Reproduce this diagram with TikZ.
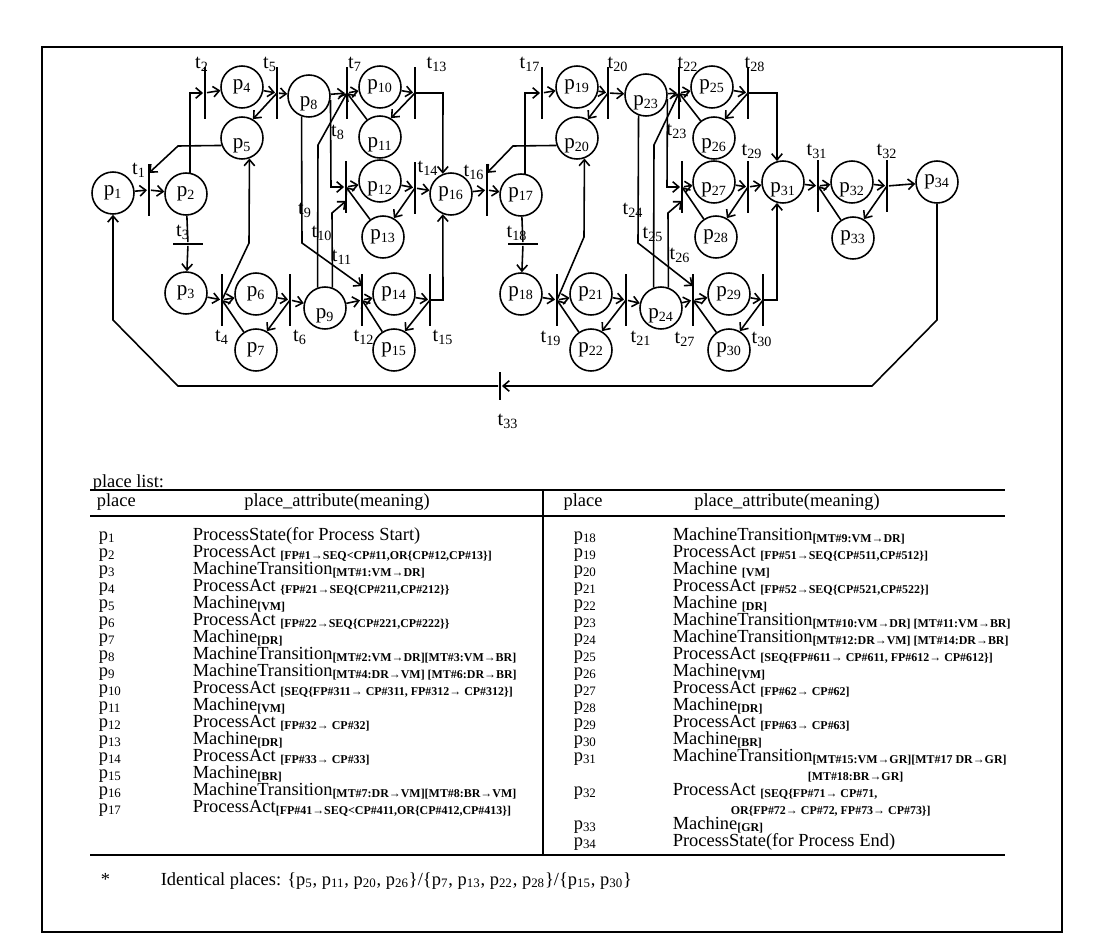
\documentclass[tikz,border=0pt]{standalone}
\usepackage{fontspec}
\setmainfont{Liberation Serif}
\usetikzlibrary{arrows.meta}
\newcommand{\attsub}[1]{\raisebox{-1.2pt}{\fontsize{6.8}{7}\selectfont\bfseries #1}}
\tikzset{
  petrifig/.style={
    x=0.02cm, y=-0.02cm, line width=0.9pt,
    >={Straight Barb[length=3.5pt,width=6pt]},
  },
  place/.style={circle, draw, line width=0.9pt, minimum size=0.84cm,
    inner sep=0pt, font=\fontsize{12}{13}\selectfont},
  % label sitting in the lower half of the circle
  lowplace/.style={place, text height=12pt, text depth=0pt},
  tbar/.style={rectangle, fill=black, draw=none, inner sep=0pt,
    minimum width=1.3pt, minimum height=1.05cm},
  hbar/.style={tbar, minimum width=0.6cm, minimum height=1.3pt},
  tlab/.style={inner sep=0pt, font=\fontsize{11.5}{12}\selectfont},
  flow/.style={->},
  rowlab/.style={anchor=base west, inner sep=0pt, font=\fontsize{10.5}{11}\selectfont},
  rowhead/.style={rowlab, anchor=base},
  rule/.style={line width=1pt},
}
\begin{document}
\begin{tikzpicture}[petrifig]
  \useasboundingbox (0,0) rectangle (1100,950);
  \draw[line width=0.8pt] (42,47) rectangle (1062,932);
  % places
  \foreach \n/\x/\y/\s in {1/113/193/place, 2/186/194/place, 3/186/293/place,
      4/242/87/place, 5/242/138/lowplace, 6/256/294/place, 7/256/350/place,
      8/309/96/lowplace, 9/325/308/lowplace, 10/380/87/place,
      11/380/137/lowplace, 12/380/181/lowplace, 13/383/237/place,
      14/394/294/place, 15/394/350/place, 16/451/194/place, 17/521/195/place,
      18/521/294/place, 19/577/87/place, 20/577/138/lowplace,
      21/591/294/place, 22/591/350/place, 23/646/95/lowplace,
      24/661/308/lowplace, 25/712/87/place, 26/714/138/lowplace,
      27/714/182/lowplace, 28/716/237/place, 29/729/294/place,
      30/729/350/place, 31/783/182/lowplace, 32/852/182/lowplace,
      33/853/238/place, 34/937/182/place}
    \node[\s] (p\n) at (\x,\y) {p\textsubscript{\n}};
  % transitions
  \foreach \n/\x/\y in {1/149/190, 2/205/93, 5/277/93, 7/347/93, 13/415/93,
      14/415/188, 16/487/190, 17/542/93, 20/608/93, 22/679/93, 28/748/93,
      29/748/187, 31/818/186, 32/887/186, 4/222/300, 6/290/300, 12/362/300,
      15/430/300, 19/557/300, 21/626/300, 27/693/300, 30/763/300}
    \node[tbar] (t\n) at (\x,\y) {};
  \node[tbar] (j12) at (346,187) {};
  \node[tbar] (j27) at (682,187) {};
  \node[hbar] (t3) at (188,244) {};
  \node[hbar] (t18) at (523,244) {};
  \node[tbar, minimum height=0.56cm] (t33) at (500,386) {};
  % transition labels
  \foreach \n/\x/\y in {1/139/170, 2/202/64, 3/183/232, 4/222/337, 5/270/64,
      6/300/337, 7/355/64, 8/338/132, 9/305/210, 10/322/233, 11/342/257,
      12/364/337, 13/437/64, 14/428/168, 15/443/337, 16/474/172, 17/530/64,
      18/517/233, 19/551/338, 20/618/64, 21/641/338, 22/688/64, 23/677/131,
      24/633/210, 25/653/234, 26/680/255, 27/685/339, 28/755/64, 29/752/151,
      30/762/339, 31/817/151, 32/887/151, 33/508/421}
    \node[tlab] (lt\n) at (\x,\y) {t\textsubscript{\n}};
  % first block
  \draw[flow] (p1) -- (t1);
  \draw[flow] (t1) -- (p2);
  \draw[flow] (p5.200) -- (178,146) -- ([yshift=-0.2cm]t1.north);
  \draw[flow] (p2.80) |- (t2);
  \draw[flow] (t2) -- (p4);
  \draw (p2) -- (t3);
  \draw[flow] (t3) -- (p3);
  \draw[flow] (p4) -- (t5);
  \draw[flow] (t5) -- (p8);
  \draw[flow] (t5.center) -- (p5.60);
  \draw[flow] (p3) -- (t4);
  \draw[flow] (t4) -- (p6);
  \draw[flow] (p7) -- (t4.center);
  \draw[flow] (t4.center) -- (249,243) -- (p5.-70);
  \draw[flow] (p6) -- (t6);
  \draw[flow] (t6.center) -- (p7.60);
  \draw[flow] (t6) -- (p9);
  \draw[flow] (p8) -- (t7);
  \draw[flow] (t7) -- (p10);
  \draw[flow] (p11) -- (t7.center);
  \draw[flow] (p10) -- (t13);
  \draw[flow] (t13.center) -- (p11.60);
  \draw[flow] (t13.center) -- (443,93) -- (p16.112);
  \draw[flow] (p8.-10) -- (331,187) -- (j12);
  \draw[flow] (p9.110) -- (318,145) -- (t7.center);
  \draw[flow] (p9.70) -- (332,213) -- ([yshift=-0.28cm]j12.center);
  \draw[flow] (p8.-110) -- (302,243) -- ([yshift=0.28cm]t12.center);
  \draw[flow] (j12) -- (p12);
  \draw[flow] (p13) -- (j12.center);
  \draw[flow] (p12) -- (t14);
  \draw[flow] (t14.center) -- (p13.60);
  \draw[flow] (t14) -- (p16);
  \draw[flow] (p9) -- (t12);
  \draw[flow] (t12) -- (p14);
  \draw[flow] (p15) -- (t12.center);
  \draw[flow] (p14) -- (t15);
  \draw[flow] (t15.center) -- (p15.60);
  \draw[flow] (t15.center) -- (443,300) -- (p16.-112);
  % second block
  \draw[flow] (p16) -- (t16);
  \draw[flow] (t16) -- (p17);
  \draw[flow] (p20.200) -- (513,146) -- ([yshift=-0.2cm]t16.north);
  \draw[flow] (p17.80) |- (t17);
  \draw[flow] (t17) -- (p19);
  \draw (p17) -- (t18);
  \draw[flow] (t18) -- (p18);
  \draw[flow] (p19) -- (t20);
  \draw[flow] (t20) -- (p23);
  \draw[flow] (t20.center) -- (p20.60);
  \draw[flow] (p18) -- (t19);
  \draw[flow] (t19) -- (p21);
  \draw[flow] (p22) -- (t19.center);
  \draw[flow] (t19.center) -- (584,237) -- (p20.-70);
  \draw[flow] (p21) -- (t21);
  \draw[flow] (t21.center) -- (p22.60);
  \draw[flow] (t21) -- (p24);
  \draw[flow] (p23) -- (t22);
  \draw[flow] (t22) -- (p25);
  \draw[flow] (p26) -- (t22.center);
  \draw[flow] (p25) -- (t28);
  \draw[flow] (t28.center) -- (p26.60);
  \draw[flow] (t28.center) -- (777,93) -- (p31.106);
  \draw[flow] (p23.-10) -- (667,187) -- (j27);
  \draw[flow] (p24.110) -- (654,145) -- (t22.center);
  \draw[flow] (p24.70) -- (668,213) -- ([yshift=-0.28cm]j27.center);
  \draw[flow] (p23.-110) -- (638,243) -- ([yshift=0.28cm]t27.center);
  \draw[flow] (j27) -- (p27);
  \draw[flow] (p28) -- (j27.center);
  \draw[flow] (p27) -- (t29);
  \draw[flow] (t29.center) -- (p28.60);
  \draw[flow] (t29) -- (p31);
  \draw[flow] (p24) -- (t27);
  \draw[flow] (t27) -- (p29);
  \draw[flow] (p30) -- (t27.center);
  \draw[flow] (p29) -- (t30);
  \draw[flow] (t30.center) -- (p30.60);
  \draw[flow] (t30.center) -- (777,300) -- (p31.-106);
  % end of process
  \draw[flow] (p31) -- (t31);
  \draw[flow] (t31) -- (p32);
  \draw[flow] (p33) -- (t31.center);
  \draw[flow] (p32) -- (t32);
  \draw[flow] (t32.center) -- (p33.60);
  \draw[flow] (t32) -- (p34);
  \draw[flow] (p34) -- (937,320) -- (872,386) -- (t33);
  \draw[flow] (t33) -- (178,386) -- (113,320) -- (p1);
  % place list
  \node[rowlab] (listtitle) at (92,487) {place list:};
  \draw[rule] (90,490) -- (1005,490);
  \draw[rule] (90,516) -- (1005,516);
  \draw[rule] (543,490) -- (543,855);
  \draw[line width=0.8pt] (90,855) -- (1005,855);
  \node[rowlab] (hplaceL) at (96,506) {place};
  \node[rowhead] (hattrL) at (337,506) {place\_attribute(meaning)};
  \node[rowhead] (hplaceR) at (583,506) {place};
  \node[rowhead] (hattrR) at (787,506) {place\_attribute(meaning)};
  \foreach \k/\txt in {
      1/{ProcessState(for Process Start)},
      2/{ProcessAct \attsub{[FP\#1→SEQ<CP\#11,OR\{CP\#12,CP\#13\}]}},
      3/{MachineTransition\attsub{[MT\#1:VM→DR]}},
      4/{ProcessAct \attsub{\{FP\#21→SEQ\{CP\#211,CP\#212\}\}}},
      5/{Machine\attsub{[VM]}},
      6/{ProcessAct \attsub{[FP\#22→SEQ\{CP\#221,CP\#222\}\}}},
      7/{Machine\attsub{[DR]}},
      8/{MachineTransition\attsub{[MT\#2:VM→DR][MT\#3:VM→BR]}},
      9/{MachineTransition\attsub{[MT\#4:DR→VM] [MT\#6:DR→BR]}},
      10/{ProcessAct \attsub{[SEQ\{FP\#311→ CP\#311, FP\#312→ CP\#312\}]}},
      11/{Machine\attsub{[VM]}},
      12/{ProcessAct \attsub{[FP\#32→ CP\#32]}},
      13/{Machine\attsub{[DR]}},
      14/{ProcessAct \attsub{[FP\#33→ CP\#33]}},
      15/{Machine\attsub{[BR]}},
      16/{MachineTransition\attsub{[MT\#7:DR→VM][MT\#8:BR→VM]}},
      17/{ProcessAct\attsub{[FP\#41→SEQ<CP\#411,OR\{CP\#412,CP\#413\}]}}}{
    \node[rowlab] (lp\k) at (98,{540+17*(\k-1)}) {p\textsubscript{\k}};
    \node[rowlab] (la\k) at (192,{540+17*(\k-1)}) {\txt};
  }
  \foreach \k/\txt in {
      18/{MachineTransition\attsub{[MT\#9:VM→DR]}},
      19/{ProcessAct \attsub{[FP\#51→SEQ\{CP\#511,CP\#512\}]}},
      20/{Machine \attsub{[VM]}},
      21/{ProcessAct \attsub{[FP\#52→SEQ\{CP\#521,CP\#522\}]}},
      22/{Machine \attsub{[DR]}},
      23/{MachineTransition\attsub{[MT\#10:VM→DR] [MT\#11:VM→BR]}},
      24/{MachineTransition\attsub{[MT\#12:DR→VM] [MT\#14:DR→BR]}},
      25/{ProcessAct \attsub{[SEQ\{FP\#611→ CP\#611, FP\#612→ CP\#612\}]}},
      26/{Machine\attsub{[VM]}},
      27/{ProcessAct \attsub{[FP\#62→ CP\#62]}},
      28/{Machine\attsub{[DR]}},
      29/{ProcessAct \attsub{[FP\#63→ CP\#63]}},
      30/{Machine\attsub{[BR]}},
      31/{MachineTransition\attsub{[MT\#15:VM→GR][MT\#17 DR→GR]}}}{
    \node[rowlab] (lp\k) at (573,{540+17*(\k-18)}) {p\textsubscript{\k}};
    \node[rowlab] (la\k) at (672,{540+17*(\k-18)}) {\txt};
  }
  \node[rowlab] (la31b) at (807,778) {\attsub{[MT\#18:BR→GR]}};
  \node[rowlab] (lp32) at (573,795) {p\textsubscript{32}};
  \node[rowlab] (la32) at (672,795) {ProcessAct \attsub{[SEQ\{FP\#71→ CP\#71,}};
  \node[rowlab] (la32b) at (730,812) {\attsub{OR\{FP\#72→ CP\#72, FP\#73→ CP\#73\}]}};
  \node[rowlab] (lp33) at (573,829) {p\textsubscript{33}};
  \node[rowlab] (la33) at (672,829) {Machine\attsub{[GR]}};
  \node[rowlab] (lp34) at (573,846) {p\textsubscript{34}};
  \node[rowlab] (la34) at (672,846) {ProcessState(for Process End)};
  % note
  \node[rowlab] (notemark) at (100,885) {*};
  \node[rowlab] (notetext) at (160,885) {Identical places: \{p\textsubscript{5}, p\textsubscript{11}, p\textsubscript{20}, p\textsubscript{26}\}/\{p\textsubscript{7}, p\textsubscript{13}, p\textsubscript{22}, p\textsubscript{28}\}/\{p\textsubscript{15}, p\textsubscript{30}\}};
\end{tikzpicture}
\end{document}
